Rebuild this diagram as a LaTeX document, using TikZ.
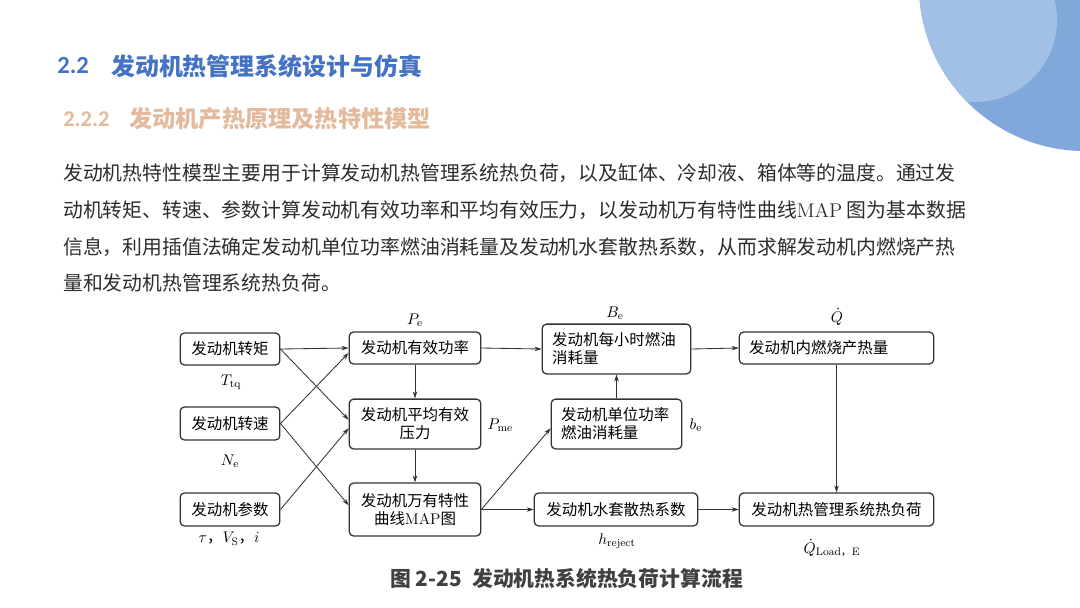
\documentclass[tikz,border=0pt]{standalone}
\usepackage{amsmath}
\usepackage{fontspec}
\newfontfamily\cjk{Noto Sans CJK SC}
\newfontfamily\numfont{Carlito}
\usetikzlibrary{arrows.meta}

\definecolor{titleblue}{RGB}{68,114,196}
\definecolor{subtan}{RGB}{228,186,156}
\definecolor{decoblue}{RGB}{128,168,218}
\definecolor{decolight}{RGB}{162,192,230}
\definecolor{bodygray}{RGB}{45,45,45}

\begin{document}
\begin{tikzpicture}[x=0.025cm, y=-0.025cm,
  blk/.style={draw=black!80, line width=0.9pt, rounded corners=3pt, fill=white,
    font=\cjk\fontsize{11}{12.8}\selectfont, inner sep=2pt},
  lbl/.style={font=\fontsize{11}{13}\selectfont, inner sep=1pt},
  arr/.style={-{Stealth[length=5pt,width=3.2pt]}, line width=0.6pt, draw=black!80},
  para/.style={anchor=west, inner sep=0pt, text=bodygray,
    font=\cjk\fontsize{14.1}{17}\selectfont}]

% Page
\useasboundingbox (0,0) rectangle (1080,607);
\fill[white] (0,0) rectangle (1080,607);

% Corner decoration
\begin{scope}
  \clip (0,0) rectangle (1080,607);
  \fill[decoblue] (1085,-15) circle[radius=4.15cm];
  \clip (1085,-15) circle[radius=4.15cm];
  \fill[decolight] (975,20) circle[radius=2.05cm];
\end{scope}

% Headings
\node[anchor=west, inner sep=0pt, text=titleblue, font=\numfont\bfseries\fontsize{17.5}{20}\selectfont]
  (secnum) at (57,66) {2.2};
\node[anchor=west, inner sep=0pt, text=titleblue, font=\cjk\bfseries\fontsize{17}{20}\selectfont]
  (sectitle) at (111,66) {发动机热管理系统设计与仿真};
\node[anchor=west, inner sep=0pt, text=subtan, font=\numfont\bfseries\fontsize{16}{20}\selectfont]
  (subnum) at (63,119) {2.2.2};
\node[anchor=west, inner sep=0pt, text=subtan, font=\cjk\bfseries\fontsize{16.5}{20}\selectfont]
  (subtitle) at (129,119) {发动机产热原理及热特性模型};

% Paragraph
\node[para] (line1) at (63,173) {发动机热特性模型主要用于计算发动机热管理系统热负荷，以及缸体、冷却液、箱体等的温度。通过发};
\node[para] (line2) at (63,210) {动机转矩、转速、参数计算发动机有效功率和平均有效压力，以发动机万有特性曲线{\rmfamily MAP} 图为基本数据};
\node[para] (line3) at (63,247) {信息，利用插值法确定发动机单位功率燃油消耗量及发动机水套散热系数，从而求解发动机内燃烧产热};
\node[para] (line4) at (63,283) {量和发动机热管理系统热负荷。};

% Input blocks
\node[blk, minimum width=70.9pt, minimum height=22.7pt] (zj) at (230,349) {发动机转矩};
\node[blk, minimum width=70.9pt, minimum height=23.4pt] (zs) at (230,423.5) {发动机转速};
\node[blk, minimum width=70.9pt, minimum height=23.4pt] (cs) at (230,509.5) {发动机参数};

% Middle blocks
\node[blk, minimum width=93.5pt, minimum height=22.7pt] (gl) at (415,348) {发动机有效功率};
\node[blk, minimum width=93.5pt, minimum height=35.4pt, align=center] (pj) at (415,424) {发动机平均有效\\压力};
\node[blk, minimum width=93.5pt, minimum height=37.6pt, align=center] (map) at (415,509.5) {发动机万有特性\\曲线{\rmfamily MAP}图};

% Fuel blocks
\node[blk, inner xsep=7pt, text width=91.6pt, minimum height=35.4pt, align=left] (yh) at (616.5,349) {发动机每小时燃油\\消耗量};
\node[blk, inner xsep=7pt, text width=78.8pt, minimum height=35.4pt, align=left] (dw) at (616.5,424) {发动机单位功率\\燃油消耗量};
\node[blk, minimum width=116.2pt, minimum height=23.4pt] (st) at (616,509.5) {发动机水套散热系数};

% Output blocks
\node[blk, inner xsep=7pt, text width=124.2pt, minimum height=22.7pt, align=left] (cr) at (836.5,348) {发动机内燃烧产热量};
\node[blk, minimum width=138.2pt, minimum height=23.4pt] (fh) at (836.5,509.5) {发动机热管理系统热负荷};

% Variable labels
\node[lbl] (pe) at (415,320) {$P_{\mathrm{e}}$};
\node[lbl] (ttq) at (231,382) {$T_{\mathrm{tq}}$};
\node[lbl] (ne) at (230,461) {$N_{\mathrm{e}}$};
\node[lbl, font=\cjk\fontsize{11}{13}\selectfont] (tvi) at (229,539) {$\tau$，$V_{\mathrm{S}}$，$i$};
\node[lbl, anchor=west] (pme) at (486,425) {$P_{\mathrm{me}}$};
\node[lbl] (be) at (615,313) {$B_{\mathrm{e}}$};
\node[lbl] (qd) at (837,317) {$\dot{Q}$};
\node[lbl, anchor=west] (bse) at (688,425) {$b_{\mathrm{e}}$};
\node[lbl] (hr) at (617,541) {$h_{\mathrm{reject}}$};
\node[lbl] (ql) at (832,548) {$\dot{Q}_{\mathrm{Load}\text{\cjk ，}\mathrm{E}}$};

% Connectors
\draw[arr] (zj.east) -- (gl.west);
\draw[arr] (zj.east) -- ([yshift=3pt]pj.west);
\draw[arr] (zs.east) -- ([yshift=-3.5pt]gl.west);
\draw[arr] (zs.east) -- ([yshift=3pt]map.west);
\draw[arr] (cs.east) -- ([yshift=-3pt]pj.west);
\draw[arr] (gl.south) -- (pj.north);
\draw[arr] (pj.south) -- (map.north);
\draw[arr] (gl.east) -- (yh.west);
\draw[arr] (map.east) -- ([yshift=-3pt]dw.west);
\draw[arr] (map.east) -- (st.west);
\draw[arr] (dw.north) -- (yh.south);
\draw[arr] (yh.east) -- (cr.west);
\draw[arr] (cr.south) -- (fh.north);
\draw[arr] (st.east) -- (fh.west);

% Caption
\node[anchor=west, inner sep=0pt, text=black!75, font=\cjk\bfseries\fontsize{14.8}{17}\selectfont]
  (capnum) at (390,579) {图 2-25};
\node[anchor=west, inner sep=0pt, text=black!75, font=\cjk\bfseries\fontsize{14.8}{17}\selectfont]
  (captext) at (472,579) {发动机热系统热负荷计算流程};

\end{tikzpicture}
\end{document}
